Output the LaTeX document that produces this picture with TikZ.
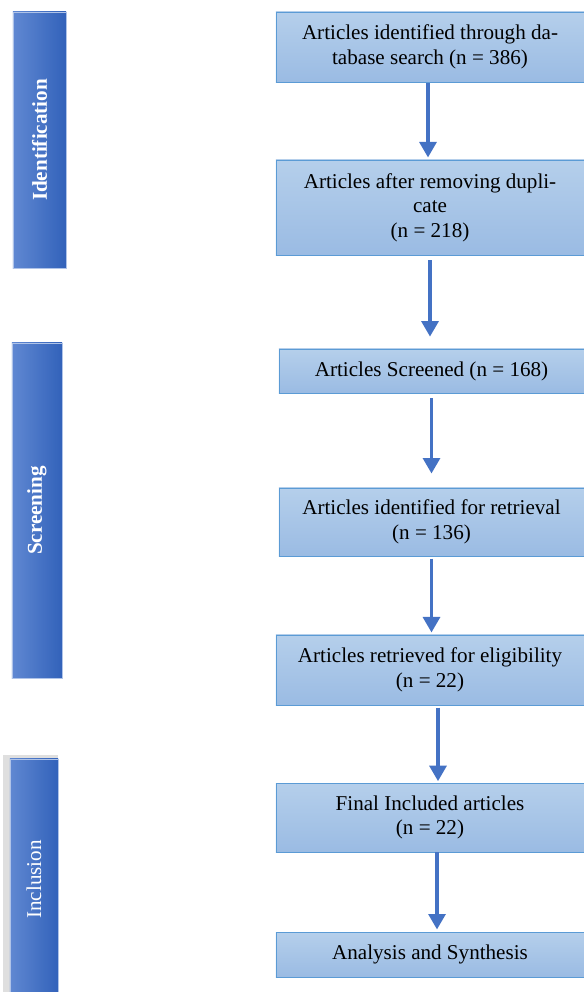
\documentclass[tikz,border=0pt]{standalone}
\usepackage{graphicx}
\usepackage{fontspec}
\setmainfont{Liberation Serif}
\usetikzlibrary{arrows.meta}
\definecolor{boxtop}{HTML}{B5CFEB}
\definecolor{boxbot}{HTML}{9ABBE3}
\definecolor{boxline}{HTML}{5B9BD5}
\definecolor{barleft}{HTML}{6088D2}
\definecolor{barright}{HTML}{3262BA}
\definecolor{arrowblue}{HTML}{4472C4}

\begin{document}
\begin{tikzpicture}[x=0.025cm,y=-0.025cm,
  stage/.style={draw=boxline, line width=0.6pt, top color=boxtop, bottom color=boxbot, align=center, inner sep=0pt, minimum width=7.7cm, font=\fontsize{15}{17.5}\selectfont},
  phase/.style={shading=axis, left color=barleft, right color=barright, draw=barleft!50!white, line width=0.4pt, text=white, inner sep=0pt, font=\fontsize{15}{18}\selectfont},
  flow/.style={arrowblue, line width=2.4pt, -{Triangle[width=12pt,length=11pt]}}]
\useasboundingbox (0,0) rectangle (584,992);

\node[stage, minimum height=1.75cm] (ident) at (430,47) {Articles identified through da-\\tabase search (n = 386)};
\node[stage, minimum height=2.375cm] (dedup) at (430,207.5) {Articles after removing dupli-\\cate\\(n = 218)};
\node[stage, minimum width=7.625cm, minimum height=1.1cm] (screened) at (431.5,371) {Articles Screened (n = 168)};
\node[stage, minimum width=7.625cm, minimum height=1.7cm] (retrieval) at (431.5,522) {Articles identified for retrieval\\(n = 136)};
\node[stage, minimum height=1.75cm] (eligible) at (430,670) {Articles retrieved for eligibility\\(n = 22)};
\node[stage, minimum height=1.725cm] (included) at (430,817.5) {Final Included articles\\(n = 22)};
\node[stage, minimum height=1.125cm] (synthesis) at (430,954.5) {Analysis and Synthesis};

\draw[flow, shorten <=0.5pt, shorten >=1.5pt] ([xshift=-0.05cm]ident.south) -- ([xshift=-0.05cm]dedup.north);
\draw[flow, shorten <=3.5pt, shorten >=8.5pt] (dedup.south) -- (dedup.south |- screened.north);
\draw[flow, shorten <=3.5pt, shorten >=10pt] (screened.south) -- (retrieval.north);
\draw[flow, shorten <=1.5pt, shorten >=1.5pt] (retrieval.south) -- (retrieval.south |- eligible.north);
\draw[flow, shorten <=1.5pt, shorten >=1pt] ([xshift=0.2cm]eligible.south) -- ([xshift=0.2cm]included.north);
\draw[flow, shorten >=1.5pt] ([xshift=0.175cm]included.south) -- ([xshift=0.175cm]synthesis.north);

\fill[gray!25] (3,755) rectangle (58,1000);
\node[phase, minimum width=1.325cm, minimum height=6.4cm] (idbar) at (39.5,140) {\rotatebox{90}{\bfseries Identification}};
\node[phase, minimum width=1.25cm, minimum height=8.375cm] (scrbar) at (37,510.5) {\rotatebox{90}{\bfseries Screening}};
\node[phase, minimum width=1.2cm, minimum height=6.025cm] (incbar) at (34,879.5) {\rotatebox{90}{Inclusion}};
\end{tikzpicture}
\end{document}
